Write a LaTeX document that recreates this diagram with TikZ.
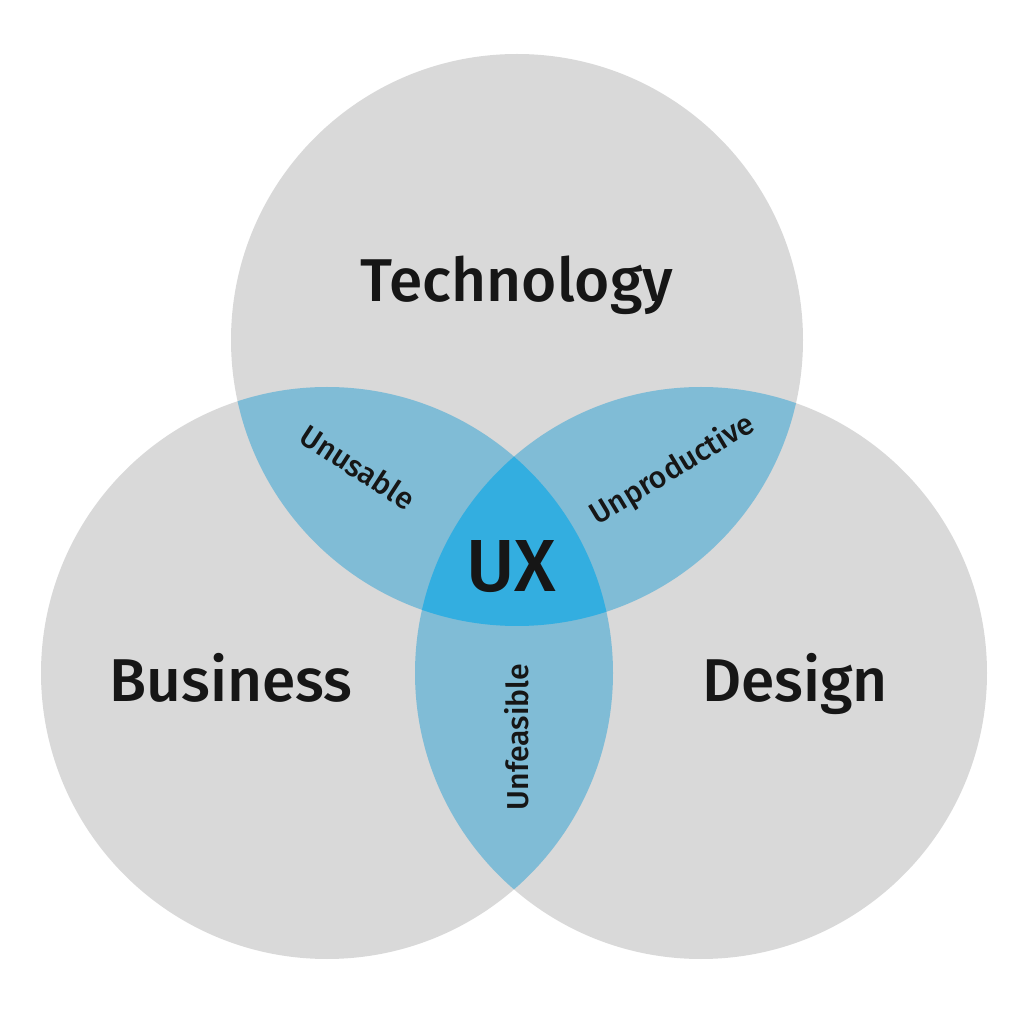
\documentclass[tikz,border=0pt]{standalone}
\usepackage{fontspec}
\setmainfont{Fira Sans Medium}
\definecolor{disc}{RGB}{217,217,217}
\definecolor{lens}{RGB}{128,188,214}
\definecolor{core}{RGB}{51,174,224}
\definecolor{ink}{RGB}{22,22,22}
\usepackage{tikz}
\tikzset{
  big/.style={font=\fontsize{17.2}{20}\selectfont, text=ink, anchor=base},
  small/.style={font=\fontsize{8.6}{10}\selectfont, text=ink},
  hub/.style={font=\fontsize{21}{24}\selectfont, text=ink, anchor=base},
}
\newcommand{\rad}{2.86}
\begin{document}
\begin{tikzpicture}
        \useasboundingbox (0,0) rectangle (10.24,10.24);
        \coordinate (tech) at (5.17,6.84);
        \coordinate (bus)  at (3.27,3.51);
        \coordinate (des)  at (7.01,3.51);
        % the three sets
        \fill[disc] (tech) circle[radius=\rad] (bus) circle[radius=\rad] (des) circle[radius=\rad];
        % pairwise overlaps
        \begin{scope}
          \clip (tech) circle[radius=\rad];
          \fill[lens] (bus) circle[radius=\rad] (des) circle[radius=\rad];
        \end{scope}
        \begin{scope}
          \clip (bus) circle[radius=\rad];
          \fill[lens] (des) circle[radius=\rad];
        \end{scope}
        % all three
        \begin{scope}
          \clip (tech) circle[radius=\rad];
          \clip (bus) circle[radius=\rad];
          \fill[core] (des) circle[radius=\rad];
        \end{scope}
        \node[big] (t) at (5.17,7.22) {Technology};
        \node[big] (b) at (2.31,3.22) {Business};
        \node[big] (d) at (7.95,3.22) {Design};
        \node[hub] (ux) at (5.11,4.32) {UX};
        \node[small, rotate=-33] (u1) at (3.58,5.57) {Unusable};
        \node[small, rotate=31]  (u2) at (6.73,5.54) {Unproductive};
        \node[small, rotate=90]  (u3) at (5.17,2.87) {Unfeasible};
      \end{tikzpicture}
\end{document}
